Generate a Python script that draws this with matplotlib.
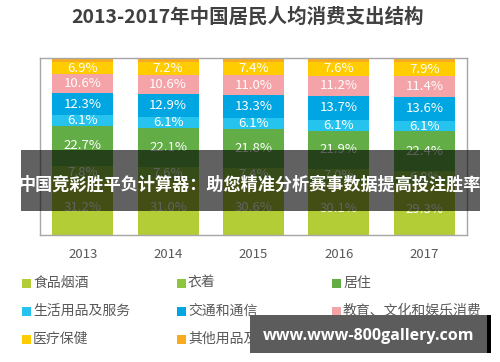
import matplotlib
matplotlib.use("Agg")
import matplotlib.pyplot as plt
from matplotlib.patches import Rectangle
import numpy as np

plt.rcParams['font.family'] = ['Noto Sans CJK SC', 'DejaVu Sans']

years = ["2013", "2014", "2015", "2016", "2017"]
categories = ["食品烟酒", "衣着", "居住", "生活用品及服务", "交通和通信",
              "教育、文化和娱乐消费", "医疗保健", "其他用品及服务"]
food = [31.2, 31.0, 30.6, 30.1, 29.3]
clothing = [7.8, 7.6, 7.4, 7.0, 6.8]
housing = [22.7, 22.1, 21.8, 21.9, 22.4]
daily = [6.1, 6.1, 6.1, 6.1, 6.1]
transport = [12.3, 12.9, 13.3, 13.7, 13.6]
education = [10.6, 10.6, 11.0, 11.2, 11.4]
medical = [6.9, 7.2, 7.4, 7.6, 7.9]
other = [2.4, 2.5, 2.4, 2.4, 2.5]
series = [food, clothing, housing, daily, transport, education, medical, other]
colors = ['#b2cd36', '#8cc540', '#62ad45', '#27c3ef', '#00a6e2',
          '#f4a3a8', '#ffcc00', '#f8ab1c']

fig = plt.figure(figsize=(5, 3.62), dpi=100)
ax = fig.add_axes([0.08, 1 - 235 / 362, 0.854, (235 - 58) / 362])

x = np.arange(len(years))
bottom = np.zeros(len(years))
for i, (vals, c) in enumerate(zip(series, colors)):
    vals = np.array(vals)
    ax.bar(x, vals, 0.715, bottom=bottom, color=c, linewidth=0)
    if i < len(series) - 1:
        for xi, b, v in zip(x, bottom, vals):
            ax.text(xi, b + v / 2, f"{v:.1f}%", ha='center', va='center',
                    color='white', fontsize=9.5)
    bottom += vals

ax.set_xlim(-0.5, 4.5)
ax.set_ylim(0, 100)
ax.set_yticks([])
ax.set_xticks(x)
ax.set_xticklabels(years, fontsize=9.5, color='#595959')
ax.tick_params(axis='x', length=0, pad=9)
for s in ax.spines.values():
    s.set_color('#a6a6a6')
    s.set_linewidth(1)

fig.text(0.496, 1 - 17 / 362, "2013-2017年中国居民人均消费支出结构",
         ha='center', va='center', fontsize=14, fontweight='bold', color='#404040')

# legend (row-wise, 3 columns)
col_x = [22, 177, 332]
row_y = [283, 311, 339]
for k, (name, c) in enumerate(zip(categories, colors)):
    r, cidx = divmod(k, 3)
    mx = col_x[cidx]
    my = row_y[r]
    fig.add_artist(Rectangle((mx / 500, 1 - (my + 4.5) / 362), 9 / 500, 9 / 362,
                             transform=fig.transFigure, color=c, linewidth=0))
    fig.text((mx + 11) / 500, 1 - my / 362, name, ha='left', va='center',
             fontsize=10, color='#595959')

# overlay banner
fig.add_artist(Rectangle((21 / 500, 1 - 211 / 362), 459 / 500, 61 / 362,
                         transform=fig.transFigure, color='black', alpha=0.62,
                         linewidth=0, zorder=10))
fig.text(250 / 500, 1 - 185 / 362, "中国竞彩胜平负计算器：助您精准分析赛事数据提高投注胜率",
         ha='center', va='center', fontsize=12.3, fontweight='bold', color='white',
         zorder=11)

# watermark
fig.add_artist(Rectangle((250 / 500, 1 - 353 / 362), 237 / 500, 38 / 362,
                         transform=fig.transFigure, color='#5c5c5c', linewidth=0, zorder=10))
fig.add_artist(Rectangle((487 / 500, 1 - 353 / 362), 4 / 500, 38 / 362,
                         transform=fig.transFigure, color='black', linewidth=0, zorder=10))
fig.text(369 / 500, 1 - 336 / 362, "www.www-800gallery.com", ha='center', va='center',
         fontsize=11.5, fontweight='bold', color='white', family='Open Sans', zorder=11)

fig.savefig("out.png", dpi=100)
